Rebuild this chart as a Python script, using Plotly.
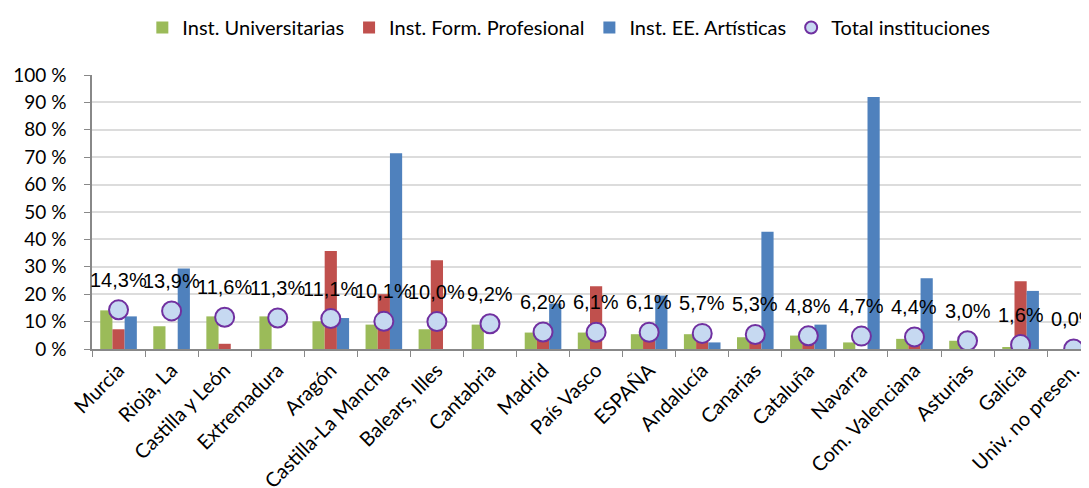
import plotly.graph_objects as go

categories = ["Murcia", "Rioja, La", "Castilla y León", "Extremadura", "Aragón",
              "Castilla-La Mancha", "Balears, Illes", "Cantabria", "Madrid", "País Vasco",
              "ESPAÑA", "Andalucía", "Canarias", "Cataluña", "Navarra",
              "Com. Valenciana", "Asturias", "Galicia", "Univ. no presen."]
univ = [14.1, 8.3, 11.9, 11.9, 10.1, 8.9, 7.2, 8.9, 6.0, 6.0,
        5.4, 5.4, 4.3, 4.9, 2.4, 3.7, 3.0, 0.6, 0.0]
fprof = [7.2, 0.0, 1.9, 0.0, 35.8, 20.0, 32.4, 0.0, 6.5, 22.9,
         7.0, 6.0, 6.0, 4.5, 0.0, 5.0, 0.0, 24.7, 0.0]
artis = [11.9, 29.4, 0.0, 0.0, 11.3, 71.4, 0.0, 0.0, 16.6, 0.0,
         19.5, 2.4, 42.8, 8.9, 92.0, 25.8, 0.0, 21.2, 0.0]
total = [14.3, 13.9, 11.6, 11.3, 11.1, 10.1, 10.0, 9.2, 6.2, 6.1,
         6.1, 5.7, 5.3, 4.8, 4.7, 4.4, 3.0, 1.6, 0.0]
total_labels = [f"{v:.1f}%".replace(".", ",") for v in total]

FONT = "Lato"
fig = go.Figure()
for name, vals, col in [("Inst. Universitarias", univ, "#9BBB59"),
                        ("Inst. Form. Profesional", fprof, "#C0504D"),
                        ("Inst. EE. Artísticas", artis, "#4F81BD")]:
    fig.add_trace(go.Bar(x=categories, y=vals, name=name, marker_color=col,
                         marker_line_width=0))

fig.add_trace(go.Scatter(x=categories, y=total, name="Total instituciones", mode="markers",
                         marker=dict(size=19, color="#C6D9F1",
                                     line=dict(color="#7030A0", width=2))))

for c, v, t in zip(categories, total, total_labels):
    fig.add_annotation(x=c, y=v, text=t, showarrow=False, yshift=30,
                       font=dict(family="Liberation Sans", size=20, color="black"))

fig.update_layout(
    width=1089, height=488,
    margin=dict(l=84, r=0, t=67, b=147, autoexpand=False),
    paper_bgcolor="white", plot_bgcolor="white",
    barmode="group", bargap=0.31, bargroupgap=0,
    font=dict(family=FONT, size=18, color="black"),
    legend=dict(orientation="h", xref="container", yref="container",
                x=0.515, xanchor="center", y=1.0, yanchor="top",
                font=dict(family=FONT, size=20, color="black"),
                itemwidth=30, tracegroupgap=0, itemsizing="constant"),
    showlegend=True,
)
fig.update_xaxes(range=[-0.5, 18.44], tickangle=-45, showgrid=False,
                 showline=True, linecolor="#888888", linewidth=1.5,
                 ticks="outside", tickson="boundaries", ticklen=6, tickcolor="#888888",
                 tickfont=dict(family=FONT, size=20, color="black"))
fig.update_yaxes(range=[0, 100], dtick=10, ticksuffix=" %", showgrid=True,
                 gridcolor="#DCDCDC", gridwidth=1.5,
                 showline=True, linecolor="#888888", linewidth=1.5,
                 ticks="outside", ticklen=6, tickcolor="#888888", zeroline=False,
                 ticklabelstandoff=14,
                 tickfont=dict(family=FONT, size=19, color="black"))

fig.write_html("out.html")
